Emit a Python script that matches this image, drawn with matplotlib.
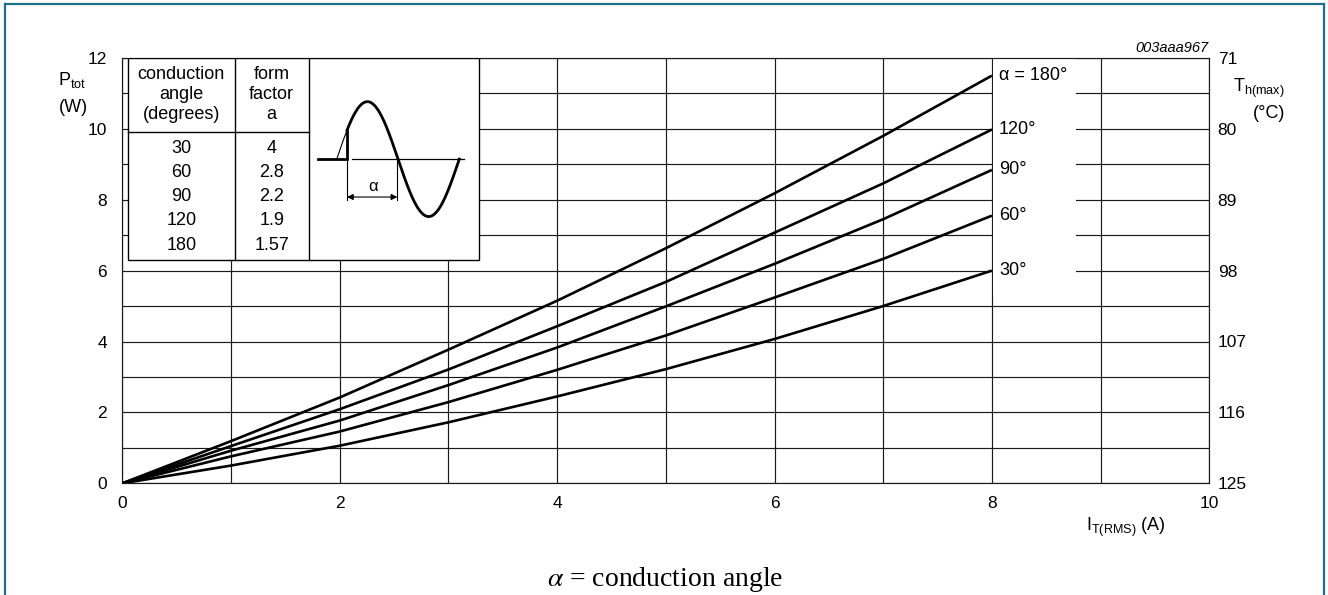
import numpy as np
import matplotlib
matplotlib.use("Agg")
import matplotlib.pyplot as plt
from matplotlib.patches import Rectangle
from matplotlib.lines import Line2D

plt.rcParams['font.family'] = ['Liberation Sans', 'DejaVu Sans']

# ---------------- data ----------------
current = [0, 1, 2, 3, 4, 5, 6, 7, 8]                       # I_T(RMS) (A)
p_180 = [0, 1.19, 2.42, 3.77, 5.15, 6.63, 8.18, 9.80, 11.50]
p_120 = [0, 1.05, 2.09, 3.21, 4.43, 5.68, 7.07, 8.46, 9.98]
p_90 = [0, 0.92, 1.77, 2.77, 3.83, 4.99, 6.19, 7.45, 8.84]
p_60 = [0, 0.76, 1.46, 2.29, 3.20, 4.17, 5.24, 6.33, 7.55]
p_30 = [0, 0.50, 1.06, 1.72, 2.45, 3.22, 4.07, 5.00, 6.00]
series = [p_180, p_120, p_90, p_60, p_30]
series_labels = ['\u03b1 = 180\u00b0', '120\u00b0', '90\u00b0', '60\u00b0', '30\u00b0']

conduction_angle = ['30', '60', '90', '120', '180']
form_factor = ['4', '2.8', '2.2', '1.9', '1.57']

x_ticks = [0, 2, 4, 6, 8, 10]
y_ticks = [0, 2, 4, 6, 8, 10, 12]
th_labels = ['125', '116', '107', '98', '89', '80', '71']

# ---------------- figure ----------------
W, H = 1328, 595
fig = plt.figure(figsize=(W / 100, H / 100), dpi=100)
fig.patch.set_facecolor('white')

ax_l, ax_r, ax_b, ax_t = 122.3, 1209.3, 483.3, 57.9
ax = fig.add_axes([ax_l / W, 1 - ax_b / H, (ax_r - ax_l) / W, (ax_b - ax_t) / H])
ax.set_xlim(0, 10)
ax.set_ylim(0, 12)
ax.set_axisbelow(True)

grid_c = '#1a1a1a'
ax.set_xticks(range(0, 11), minor=True)
ax.set_yticks(range(0, 13), minor=True)
ax.set_xticks(x_ticks)
ax.set_yticks(y_ticks)
ax.grid(True, which='both', color=grid_c, lw=0.85)
for s in ax.spines.values():
    s.set_color(grid_c)
    s.set_linewidth(0.85)
ax.tick_params(which='both', length=0)
ax.tick_params(axis='x', pad=9, labelsize=12.5)
ax.tick_params(axis='y', pad=11, labelsize=12.5)

ax2 = ax.twinx()
ax2.set_ylim(0, 12)
ax2.set_yticks(y_ticks)
ax2.set_yticklabels(th_labels)
ax2.tick_params(length=0, pad=6, labelsize=12.5)
for s in ax2.spines.values():
    s.set_visible(False)

# white box behind curve labels
ax.add_patch(Rectangle((8.012, 5.3), 0.76, 6.7, facecolor='white',
                       edgecolor='none', zorder=1))

# curves
for vals, lab in zip(series, series_labels):
    ax.plot(current, vals, color='black', lw=1.9, zorder=3,
            solid_capstyle='butt')
    ax.text(current[-1] + 0.065, vals[-1], lab, ha='left', va='center',
            fontsize=13, zorder=5)

# ---------------- table inset ----------------
tx0, tx1, tx2, tx3 = 0.05, 1.034, 1.715, 3.28
ty_bot, ty_sep, ty_top = 6.30, 9.92, 12.0
ax.add_patch(Rectangle((tx0, ty_bot), tx3 - tx0, ty_top - ty_bot,
                       facecolor='white', edgecolor='black', lw=1.0, zorder=4))
ax.plot([tx1, tx1], [ty_bot, ty_top], color='black', lw=1.0, zorder=4.5)
ax.plot([tx2, tx2], [ty_bot, ty_top], color='black', lw=1.0, zorder=4.5)
ax.plot([tx0, tx2], [ty_sep, ty_sep], color='black', lw=1.0, zorder=4.5)
c1 = (tx0 + tx1) / 2
c2 = (tx1 + tx2) / 2
ax.text(c1, 10.97, 'conduction\nangle\n(degrees)', ha='center', va='center',
        fontsize=13, linespacing=1.2, zorder=5)
ax.text(c2, 10.97, 'form\nfactor\na', ha='center', va='center',
        fontsize=13, linespacing=1.2, zorder=5)
row_y = np.linspace(9.45, 6.72, len(conduction_angle))
for yy, ca, ff in zip(row_y, conduction_angle, form_factor):
    ax.text(c1, yy, ca, ha='center', va='center', fontsize=13, zorder=5)
    ax.text(c2, yy, ff, ha='center', va='center', fontsize=13, zorder=5)

# ---------------- sine sketch (phase in degrees) ----------------
sx = ax.inset_axes([1.785, 7.20, 1.378, 3.89], transform=ax.transData, zorder=6)
sx.set_xlim(-60, 380)
sx.set_ylim(-1.2, 1.2)
sx.axis('off')
sx.patch.set_alpha(0)
ph_thin = np.linspace(0, 30, 30)
ph_thick = np.linspace(30, 360, 300)
sx.plot(ph_thin, np.sin(np.radians(ph_thin)), color='black', lw=0.8)
sx.plot(ph_thick, np.sin(np.radians(ph_thick)), color='black', lw=2.0)
sx.plot([-56, 31, 31], [0, 0, np.sin(np.radians(30))], color='black', lw=2.0,
        solid_joinstyle='miter')
sx.plot([45, 374], [0, 0], color='black', lw=0.9)
sx.plot([30, 30], [0, -0.72], color='black', lw=0.8)
sx.plot([178, 178], [0.05, -0.72], color='black', lw=0.8)
sx.annotate('', xy=(30, -0.66), xytext=(178, -0.66),
            arrowprops=dict(arrowstyle='<|-|>', color='black', lw=0.8,
                            mutation_scale=9, shrinkA=0, shrinkB=0))
sx.text(106, -0.48, '\u03b1', ha='center', va='center', fontsize=12)

# ---------------- labels ----------------
def fx(px):
    return px / W

def fy(py):
    return 1 - py / H

fig.text(fx(72), fy(80), 'P$_\\mathregular{tot}$', ha='center', va='center', fontsize=13)
fig.text(fx(73), fy(107), '(W)', ha='center', va='center', fontsize=13)
fig.text(fx(1259), fy(88), 'T$_\\mathregular{h(max)}$', ha='center', va='center', fontsize=13)
fig.text(fx(1269), fy(113), '(\u00b0C)', ha='center', va='center', fontsize=13)
fig.text(fx(1126), fy(527), 'I$_\\mathregular{T(RMS)}$ (A)', ha='center', va='center', fontsize=13)
fig.text(fx(1208), fy(48), '003aaa967', ha='right', va='center', fontsize=10.5,
         style='italic')
fig.text(fx(665), fy(580), '$\\alpha$ = conduction angle', ha='center', va='center',
         fontsize=20, family='Liberation Serif', math_fontfamily='stix')

# ---------------- outer frame ----------------
frame_c = '#1f6f8b'
for xs, ys in [((5, 5), (595, 3.5)), ((5, 1324), (3.5, 3.5)), ((1324, 1324), (3.5, 595))]:
    fig.add_artist(Line2D([fx(v) for v in xs], [fy(v) for v in ys],
                          color=frame_c, lw=1.6, transform=fig.transFigure))

fig.savefig('out.png', dpi=100, facecolor='white')
